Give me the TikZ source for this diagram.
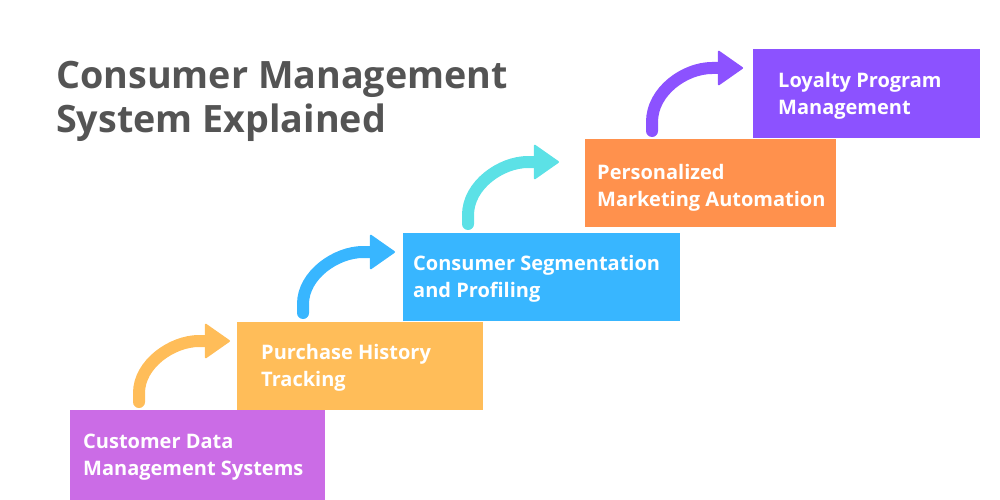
\documentclass[tikz,border=0pt]{standalone}
\usepackage{fontspec}
\setmainfont{Open Sans}
\usetikzlibrary{arrows.meta,positioning,calc}
\definecolor{titlegray}{RGB}{84,84,84}
\definecolor{stepone}{RGB}{203,108,230}
\definecolor{steptwo}{RGB}{255,189,89}
\definecolor{stepthree}{RGB}{56,182,255}
\definecolor{stepfour}{RGB}{255,145,77}
\definecolor{stepfive}{RGB}{140,82,255}
\definecolor{climbcyan}{RGB}{92,225,230}
\tikzset{
    stepbox/.style={
        rectangle,
        draw=none,
        inner sep=0pt,
        anchor=north west
    },
    steptext/.style={
        inner sep=0pt,
        anchor=base west,
        align=left,
        text=white,
        font=\fontsize{20}{27}\selectfont\bfseries
    },
    climb/.style={
        line width=12pt,
        line cap=round,
        -{Triangle[length=26pt,width=36pt,line width'=2pt,round]},
        draw=#1
    }
}
% rising arrow from the top of one step to the side of the next
\newcommand{\stepclimb}[3]{%
    \draw[climb=#1] let \p1=(#2), \p2=(#3) in
        (\p1) -- (\x1,\y1+9pt) .. controls (\x1,\y2-23pt) and (\x1+33pt,\y2) .. (\x1+60pt,\y2) -- (\p2);}

\begin{document}
\begin{tikzpicture}[x=1pt, y=-1pt]
    \useasboundingbox (0,0) rectangle (1000,500);

    % Title
    \node[anchor=base west, inner sep=0pt, align=left, text=titlegray,
          font=\fontsize{37.7}{44}\selectfont\bfseries] (title) at (56,132)
          {Consumer Management\\System Explained};

    % Steps
    \node[stepbox, fill=stepone, minimum width=255pt, minimum height=90pt] (cdm) at (70,410) {};
    \node[stepbox, fill=steptwo, minimum width=246pt, minimum height=88pt] (pht) at (237,322) {};
    \node[stepbox, fill=stepthree, minimum width=277pt, minimum height=88pt] (csp) at (403,233) {};
    \node[stepbox, fill=stepfour, minimum width=251pt, minimum height=88pt] (pma) at (585,139) {};
    \node[stepbox, fill=stepfive, minimum width=227pt, minimum height=89pt] (lpm) at (753,49) {};

    % Labels (base = last line)
    \node[steptext] (cdmtext) at ($(cdm.north west)+(13,65)$) {Customer Data\\Management Systems};
    \node[steptext] (phttext) at ($(pht.north west)+(24,64)$) {Purchase History\\Tracking};
    \node[steptext] (csptext) at ($(csp.north west)+(10,64)$) {Consumer Segmentation\\and Profiling};
    \node[steptext] (pmatext) at ($(pma.north west)+(12,67)$) {Personalized\\Marketing Automation};
    \node[steptext] (lpmtext) at ($(lpm.north west)+(25,65)$) {Loyalty Program\\Management};

    % Arrows
    \stepclimb{steptwo}{$(cdm.north west)+(69,-8)$}{$(pht.north west)+(-7,19)$}
    \stepclimb{stepthree}{$(pht.north west)+(66,-9)$}{$(csp.north west)+(-8,19)$}
    \stepclimb{climbcyan}{$(csp.north west)+(65,-9)$}{$(pma.north west)+(-26,23)$}
    \stepclimb{stepfive}{$(pma.north west)+(67,-8)$}{$(lpm.north west)+(-10,19)$}
\end{tikzpicture}
\end{document}
